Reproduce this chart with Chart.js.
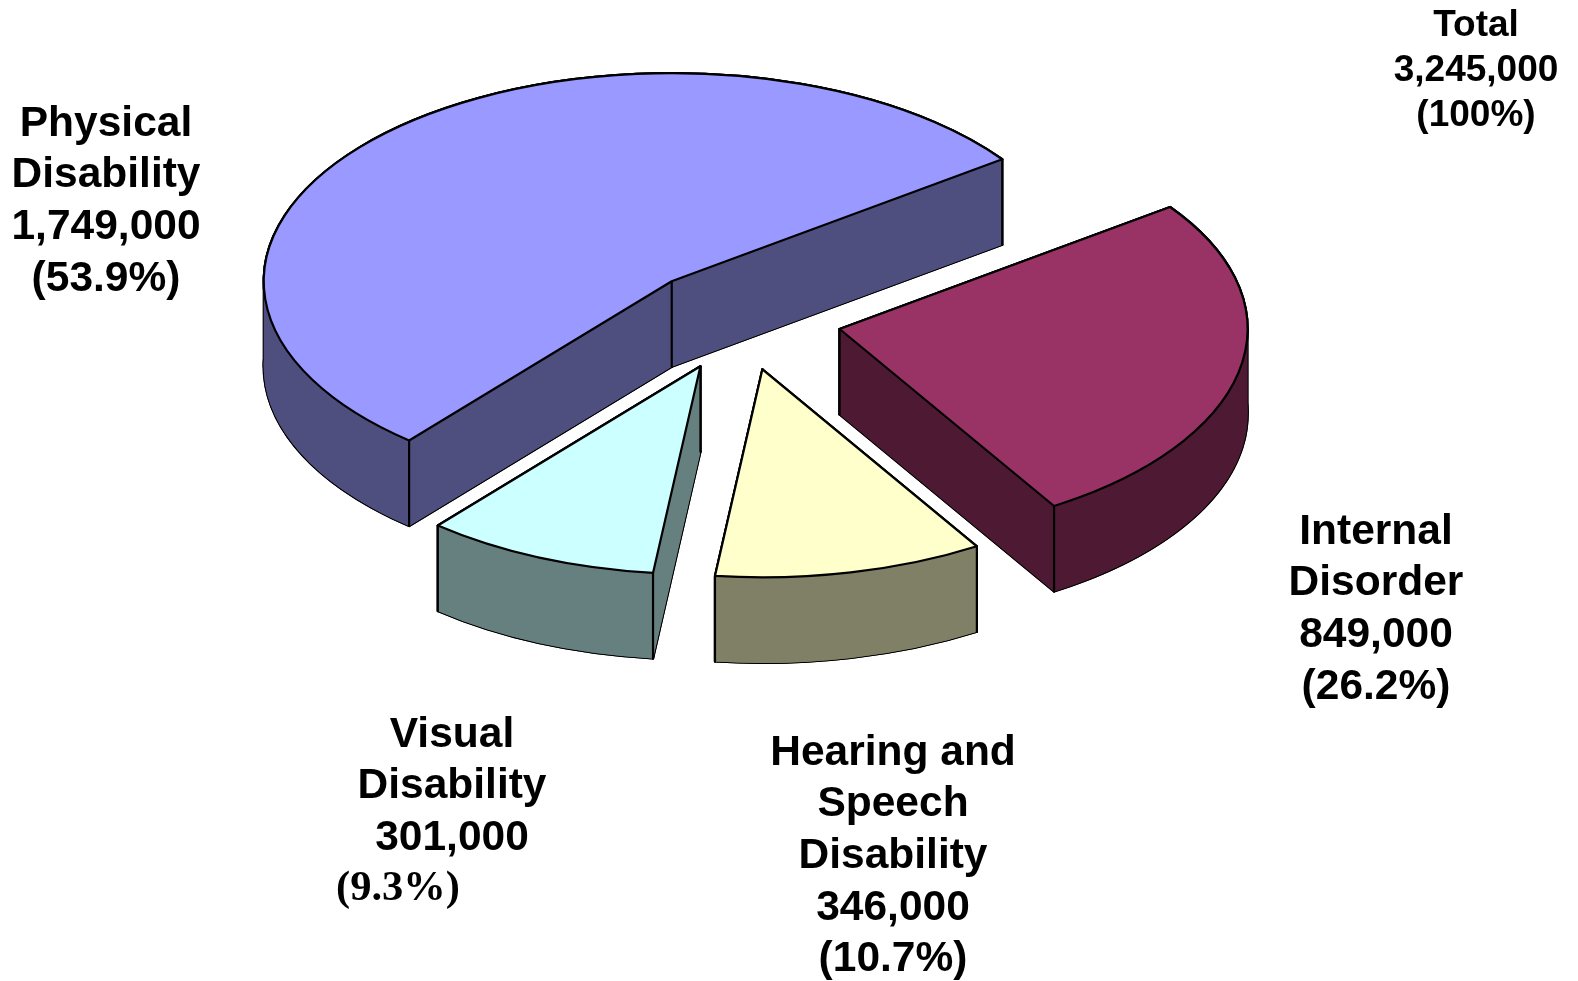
<!DOCTYPE html>
<html>
<head>
<meta charset="utf-8">
<style>html,body{margin:0;padding:0;background:#fff}#wrap{width:1578px;height:981px;position:relative}</style>
<script src="https://cdn.jsdelivr.net/npm/chart.js@4/dist/chart.umd.js"></script>
</head>
<body>
<div id="wrap"><canvas id="c" width="1578" height="981"></canvas></div>
<script>
const categories = ['Internal Disorder', 'Hearing and Speech Disability', 'Visual Disability', 'Physical Disability'];
const values = [849000, 346000, 301000, 1749000];
const topColors = ['#993366', '#FFFFCC', '#CCFFFF', '#9999FF'];
const sideColors = ['#4D1933', '#808066', '#668080', '#4F4F7F'];
const labelLines = [
  ['Internal', 'Disorder', '849,000', '(26.2%)'],
  ['Hearing and', 'Speech', 'Disability', '346,000', '(10.7%)'],
  ['Visual', 'Disability', '301,000'],
  ['Physical', 'Disability', '1,749,000', '(53.9%)']
];
const visualPercent = '(9.3%)';
const totalLines = ['Total', '3,245,000', '(100%)'];

const view = { squash: 0.51, centerY: 319, depth: 85.5, explode: 101, line: 2.2 };
const labelPos = [
  { x: 1376, y: 532, step: 51.6 },
  { x: 893, y: 753, step: 51.6 },
  { x: 452, y: 735, step: 51.6 },
  { x: 106, y: 124, step: 51.6 }
];

function place(arc, angle, radius, dy) {
  const mid = (arc.startAngle + arc.endAngle) / 2;
  const ux = Math.cos(mid) * view.explode + Math.cos(angle) * radius;
  const uy = Math.sin(mid) * view.explode + Math.sin(angle) * radius;
  return [arc.x + ux, view.centerY + uy * view.squash + dy];
}
function arcSegment(ctx, arc, dy, from, to, ccw) {
  const c = place(arc, 0, 0, dy);
  ctx.save();
  ctx.translate(c[0], c[1]);
  ctx.scale(1, view.squash);
  ctx.arc(0, 0, arc.outerRadius, from, to, ccw);
  ctx.restore();
}
function sector(ctx, arc, dy) {
  const c = place(arc, 0, 0, dy);
  ctx.beginPath();
  ctx.moveTo(c[0], c[1]);
  arcSegment(ctx, arc, dy, arc.startAngle, arc.endAngle, false);
  ctx.closePath();
}
function rim(ctx, arc) {
  ctx.beginPath();
  arcSegment(ctx, arc, 0, arc.startAngle, arc.endAngle, false);
  arcSegment(ctx, arc, view.depth, arc.endAngle, arc.startAngle, true);
  ctx.closePath();
}
function cutFace(ctx, arc, angle) {
  const a = place(arc, 0, 0, 0);
  const b = place(arc, angle, arc.outerRadius, 0);
  ctx.beginPath();
  ctx.moveTo(a[0], a[1]);
  ctx.lineTo(b[0], b[1]);
  ctx.lineTo(b[0], b[1] + view.depth);
  ctx.lineTo(a[0], a[1] + view.depth);
  ctx.closePath();
}
function sideExtremes(arc) {
  const out = [];
  for (let k = -4; k <= 4; k++) {
    const t = k * Math.PI;
    if (t > arc.startAngle && t < arc.endAngle) out.push(t);
  }
  return out;
}
const pie3d = {
  id: 'pie3d',
  beforeDatasetDraw(chart, args) {
    const ctx = chart.ctx;
    const arcs = args.meta.data;
    ctx.save();
    ctx.lineJoin = 'round';
    ctx.lineCap = 'round';
    ctx.strokeStyle = '#000';
    ctx.lineWidth = view.line;
    arcs.forEach((arc, i) => {
      const faceAngles = [arc.startAngle, arc.endAngle].concat(sideExtremes(arc));
      const body = [
        () => sector(ctx, arc, view.depth),
        () => rim(ctx, arc),
        () => sector(ctx, arc, 0)
      ].concat(faceAngles.map(a => () => cutFace(ctx, arc, a)));
      // black outline of the whole extruded slice, then its dark body over the inner half
      body.forEach(p => { p(); ctx.stroke(); });
      ctx.fillStyle = sideColors[i];
      body.forEach(p => { p(); ctx.fill(); });
      // vertical edges
      const corners = [[arc.startAngle, arc.outerRadius], [arc.endAngle, arc.outerRadius], [0, 0]];
      corners.forEach(([a, r]) => {
        const p = place(arc, a, r, 0);
        ctx.beginPath();
        ctx.moveTo(p[0], p[1]);
        ctx.lineTo(p[0], p[1] + view.depth);
        ctx.stroke();
      });
      // top face
      ctx.fillStyle = topColors[i];
      sector(ctx, arc, 0);
      ctx.fill();
      ctx.stroke();
    });
    ctx.restore();
    return false;
  },
  afterDraw(chart) {
    const ctx = chart.ctx;
    ctx.save();
    ctx.fillStyle = '#000';
    ctx.textAlign = 'center';
    ctx.textBaseline = 'middle';
    ctx.font = 'bold 42.5px "Liberation Sans", Arial, sans-serif';
    labelLines.forEach((lines, i) => {
      lines.forEach((t, j) => ctx.fillText(t, labelPos[i].x, labelPos[i].y + j * labelPos[i].step));
    });
    ctx.font = 'bold 42.5px "Liberation Serif", "Times New Roman", serif';
    ctx.fillText(visualPercent, 398, 889);
    ctx.font = 'bold 37px "Liberation Sans", Arial, sans-serif';
    totalLines.forEach((t, j) => ctx.fillText(t, 1476, 26 + j * 44.8));
    ctx.restore();
  }
};

new Chart(document.getElementById('c'), {
  type: 'pie',
  data: {
    labels: categories,
    datasets: [{ data: values, backgroundColor: topColors, borderWidth: 0 }]
  },
  options: {
    responsive: false,
    animation: false,
    rotation: 54.1,
    layout: { padding: { left: 332.5, right: 429.5, top: 0, bottom: 165 } },
    plugins: { legend: { display: false }, tooltip: { enabled: false }, title: { display: false } }
  },
  plugins: [pie3d]
});
</script>
</body>
</html>
